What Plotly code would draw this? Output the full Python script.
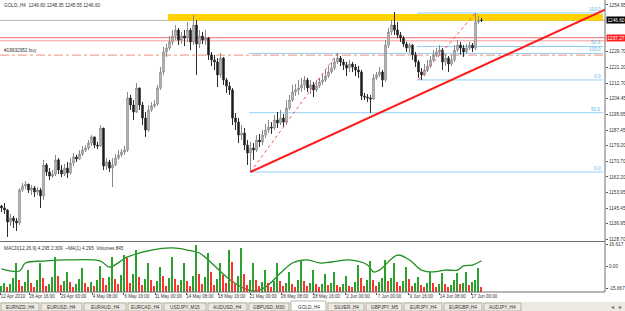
import plotly.graph_objects as go

# ---------------- data ----------------
first_open = 1146.6
closes = [1145.5, 1144.4, 1137.9, 1140.1, 1138.5, 1137.4, 1155.2, 1157.3, 1158.4, 1155.2,
          1156.3, 1154.1, 1155.2, 1152.0, 1168.7, 1164.9, 1162.7, 1163.8, 1171.4, 1166.0,
          1163.8, 1167.0, 1164.4, 1169.7, 1173.0, 1171.9, 1174.6, 1176.7, 1177.8, 1180.5,
          1183.8, 1179.4, 1178.9, 1188.6, 1168.1, 1170.3, 1167.0, 1168.7, 1172.4, 1174.1,
          1175.7, 1176.7, 1204.8, 1201.0, 1197.2, 1210.2, 1201.0, 1194.0, 1187.5, 1198.3,
          1200.5, 1201.5, 1210.2, 1218.8, 1229.6, 1231.7, 1235.0, 1238.2, 1241.4, 1236.0,
          1238.2, 1237.1, 1241.4, 1235.0, 1244.1, 1233.9, 1238.2, 1236.0, 1237.1, 1228.0,
          1225.3, 1224.2, 1217.2, 1226.3, 1214.5, 1211.2, 1209.1, 1194.0, 1191.8, 1184.8,
          1185.9, 1179.4, 1175.1, 1177.8, 1176.7, 1182.1, 1181.1, 1184.8, 1187.5, 1189.1,
          1188.6, 1192.9, 1191.3, 1194.0, 1191.8, 1199.4, 1203.7, 1208.0, 1209.1, 1210.2,
          1211.8, 1214.5, 1210.2, 1211.8, 1209.1, 1211.2, 1213.4, 1214.5, 1216.6, 1218.8,
          1220.9, 1224.2, 1226.3, 1224.2, 1222.6, 1220.9, 1223.1, 1221.5, 1219.9, 1218.8,
          1205.9, 1205.3, 1204.8, 1204.2, 1215.6, 1217.2, 1218.8, 1214.5, 1233.3, 1240.4,
          1244.1, 1241.4, 1238.7, 1237.1, 1233.9, 1231.7, 1233.3, 1228.0, 1224.2, 1218.8,
          1217.2, 1219.9, 1222.0, 1225.3, 1228.0, 1229.6, 1230.6, 1224.2, 1226.3, 1223.1,
          1225.3, 1230.6, 1233.3, 1231.7, 1229.6, 1231.7, 1233.3, 1231.7, 1245.7, 1246.8,
          1246.6]
highs = [1147.1, 1148.2, 1144.9, 1142.3, 1141.2, 1140.1, 1156.3, 1159.0, 1160.0, 1158.4,
         1157.9, 1157.3, 1156.8, 1156.3, 1171.4, 1169.7, 1167.0, 1166.0, 1174.1, 1172.4,
         1168.7, 1169.2, 1170.3, 1172.4, 1175.1, 1174.1, 1176.7, 1178.9, 1179.4, 1182.1,
         1184.8, 1183.8, 1181.1, 1190.2, 1188.6, 1172.4, 1171.4, 1172.4, 1174.6, 1176.7,
         1177.3, 1178.9, 1208.0, 1206.4, 1203.7, 1212.9, 1210.2, 1202.6, 1197.2, 1201.0,
         1202.6, 1203.7, 1211.8, 1221.5, 1232.3, 1233.9, 1238.2, 1241.4, 1244.1, 1242.5,
         1240.4, 1241.4, 1245.7, 1242.5, 1249.5, 1246.8, 1241.4, 1240.4, 1241.4, 1237.7,
         1229.6, 1228.0, 1226.3, 1229.0, 1226.9, 1215.6, 1213.4, 1210.2, 1196.7, 1194.0,
         1190.2, 1188.6, 1182.1, 1181.1, 1180.5, 1184.8, 1185.4, 1187.5, 1190.8, 1192.9,
         1191.8, 1195.6, 1197.2, 1198.3, 1196.2, 1203.7, 1206.4, 1211.8, 1212.3, 1214.5,
         1215.6, 1216.6, 1215.6, 1214.5, 1213.4, 1214.5, 1215.6, 1217.7, 1219.9, 1222.0,
         1224.2, 1226.3, 1228.8, 1227.4, 1225.8, 1224.2, 1225.3, 1224.2, 1223.1, 1222.0,
         1219.9, 1207.5, 1206.9, 1206.4, 1217.7, 1218.8, 1221.5, 1219.9, 1236.0, 1242.5,
         1246.8, 1251.1, 1245.7, 1240.4, 1238.2, 1235.0, 1234.4, 1233.9, 1229.6, 1225.3,
         1220.9, 1223.1, 1225.3, 1227.4, 1230.6, 1231.7, 1233.3, 1231.7, 1228.5, 1227.4,
         1228.0, 1233.3, 1236.0, 1235.0, 1233.3, 1233.9, 1235.0, 1234.4, 1250.6, 1249.0,
         1247.9]
lows = [1143.3, 1142.3, 1129.9, 1135.8, 1134.7, 1133.1, 1136.3, 1154.1, 1155.7, 1153.6,
        1152.5, 1151.4, 1152.5, 1145.5, 1149.8, 1162.7, 1160.6, 1161.7, 1162.7, 1163.8,
        1162.2, 1162.7, 1161.7, 1163.3, 1168.1, 1170.3, 1171.4, 1173.5, 1175.7, 1176.7,
        1178.9, 1177.8, 1177.3, 1178.4, 1166.0, 1166.0, 1164.9, 1156.8, 1168.1, 1171.4,
        1173.0, 1174.1, 1175.7, 1198.3, 1192.9, 1196.7, 1198.3, 1190.2, 1183.8, 1186.5,
        1197.2, 1199.4, 1200.5, 1209.1, 1217.2, 1226.9, 1230.6, 1233.3, 1236.0, 1233.3,
        1233.9, 1232.8, 1235.0, 1230.6, 1233.3, 1217.2, 1231.7, 1233.9, 1233.3, 1225.3,
        1222.0, 1219.9, 1210.7, 1215.6, 1211.8, 1207.5, 1206.4, 1190.2, 1187.5, 1180.5,
        1182.1, 1176.7, 1168.7, 1164.9, 1171.4, 1175.7, 1178.4, 1179.4, 1183.2, 1185.9,
        1185.4, 1187.5, 1188.6, 1190.2, 1189.1, 1190.2, 1198.3, 1202.6, 1205.9, 1206.4,
        1208.0, 1209.1, 1208.0, 1206.9, 1205.3, 1208.0, 1210.2, 1211.8, 1213.4, 1215.6,
        1217.7, 1219.9, 1223.1, 1222.0, 1219.9, 1216.6, 1218.8, 1218.8, 1216.6, 1215.6,
        1203.7, 1203.7, 1202.6, 1196.7, 1203.7, 1214.5, 1216.1, 1210.7, 1213.4, 1231.7,
        1238.7, 1238.7, 1237.1, 1235.0, 1232.3, 1229.6, 1229.0, 1225.3, 1221.5, 1215.6,
        1214.5, 1216.6, 1218.8, 1220.9, 1224.2, 1226.9, 1228.0, 1219.9, 1222.0, 1218.8,
        1222.0, 1224.2, 1229.6, 1228.0, 1226.9, 1228.5, 1230.6, 1229.6, 1230.6, 1244.7,
        1245.7]
volumes = [1020, 1530, 850, 1360, 2380, 4930, 2040, 1020, 1700, 3740,
           1530, 850, 2040, 4930, 2380, 1020, 1360, 2550, 5950, 2720,
           1190, 1870, 3400, 1700, 850, 1360, 2210, 4080, 1530, 850,
           1700, 1020, 2040, 4420, 2380, 1190, 2550, 5950, 2210, 1360,
           2890, 6290, 5780, 1530, 3060, 7140, 2550, 1190, 2210, 4930,
           2040, 1020, 1870, 4250, 2720, 1020, 2380, 5950, 2210, 1190,
           2040, 4930, 1870, 1020, 2720, 7990, 3060, 1360, 2550, 6630,
           3400, 1190, 2210, 4930, 2890, 1530, 7140, 5100, 1360, 2720,
           7480, 3060, 1190, 2040, 4930, 2040, 1020, 1700, 3740, 1530,
           850, 1870, 4930, 1870, 1020, 1530, 3400, 1360, 850, 2040,
           5440, 1870, 1020, 1530, 3740, 1360, 850, 1360, 3060, 1190,
           1530, 3400, 1190, 850, 1360, 2720, 1020, 850, 1700, 4590,
           2380, 1020, 2040, 5270, 2040, 1020, 1700, 2380, 5440, 1870,
           2380, 4930, 1700, 1020, 1870, 4250, 2210, 1020, 1530, 2550,
           1190, 850, 1530, 3400, 1530, 850, 1360, 3230, 1360, 850,
           1190, 2040, 3230, 1360, 1530, 3400, 1190, 1700, 2040, 4080,
           845]
macd_idx = [0, 6, 8, 14, 22, 33, 36, 42, 50, 57, 62, 66, 70, 75, 80, 84, 88, 93, 97, 102,
            106, 110, 116, 122, 124, 126, 132, 136, 140, 144, 148, 152, 154, 157, 160]
macd_val = [-1.7, -3.2, 2.7, 4.1, 4.9, 4.1, -0.3, 7.1, 12.2, 13.7, 12.2, 10.0, 2.7, -7.6, -15.0,
            -17.8, -15.0, -4.7, 2.7, 4.9, 2.7, 3.4, 4.9, 1.2, -3.9, -2.5, 8.5, 4.9, -2.5, -3.9,
            -2.5, -2.5, 0.5, 1.2, 4.295]

price_ticks = [1254.95, 1229.70, 1221.20, 1212.70, 1204.45, 1195.95, 1187.45, 1179.20,
               1170.70, 1162.20, 1153.95, 1145.45, 1136.95, 1128.70]
bid_price = 1246.60
order_price = 1227.9
red_levels = [1237.27, 1235.6]
zone_prices = [1246.4, 1250.1]
zone_start = 55.5
fibA = (83, 1164.9, 112, 1228.8)
fibB = (139, 1214.5, 158, 1250.6)
trend = (83, 1164.9, 160, 1221.9)
fib_levels = [0.0, 50.0, 100.0]

macd_ticks = [16.617, 0.0, -15.667]
macd_tick_text = ["16.617", "0.00", "-15.667"]

time_labels = ["12 Apr 2010", "26 Apr 16:00", "29 Apr 00:00", "4 May 08:00", "6 May 16:00",
               "11 May 00:00", "14 May 08:00", "18 May 16:00", "21 May 00:00", "26 May 08:00",
               "28 May 16:00", "2 Jun 00:00", "7 Jun 00:00", "9 Jun 16:00", "14 Jun 08:00",
               "17 Jun 00:00"]
time_pos = [-0.5, 9.2, 19.7, 30.2, 40.8, 51.3, 61.8, 72.4, 82.9, 93.4, 104.0, 114.5,
            125.0, 135.6, 146.1, 156.6]

tabs = ["EURNZD.,H4", "EURUSD.,H4", "EURAUD.,H4", "EURCAD.,H4", "USDJPY.,M15", "AUDUSD.,H4",
        "GBPUSD.,M30", "GOLD.,H4", "SILVER.,H4", "GBPJPY.,M5", "EURJPY.,H4", "EURGBP.,H4",
        "AUDJPY.,H4"]
active_tab = "GOLD.,H4"

# ---------------- layout geometry ----------------
W, H = 625, 311
ML, MR, MT, MB = 0, 20, 0, 19
PW, PH = W - ML - MR, H - MT - MB
SPACING = 3.0
XMAX = PW / SPACING - 0.5
FONT = "Liberation Sans, Arial, sans-serif"
TXT = "#333333"
FS = 4.7


def py(p):
    return (PH - p) / PH


def px(p):
    return p / PW


n = len(closes)
xs = list(range(n))
opens = [first_open] + closes[:-1]
highs = [max(h, o, c) for h, o, c in zip(highs, opens, closes)]
lows = [min(l, o, c) for l, o, c in zip(lows, opens, closes)]
vol_colors = ["#2ca02c"] + ["#2ca02c" if volumes[i] > volumes[i - 1] else "#ff3030"
                           for i in range(1, len(volumes))]

fig = go.Figure()
fig.add_trace(go.Candlestick(
    x=xs, open=opens, high=highs, low=lows, close=closes,
    increasing=dict(line=dict(color="#8a8a8a", width=1), fillcolor="#d4d4d4"),
    decreasing=dict(line=dict(color="#2a2a2a", width=1), fillcolor="#111111"),
    whiskerwidth=0, xaxis="x", yaxis="y", showlegend=False, hoverinfo="skip"))
fig.add_trace(go.Bar(x=list(range(len(volumes))), y=volumes, marker_color=vol_colors,
                     marker_line_width=0, width=0.55, xaxis="x2", yaxis="y3",
                     showlegend=False, hoverinfo="skip"))
fig.add_trace(go.Scatter(x=macd_idx, y=macd_val, mode="lines",
                         line=dict(color="#1f8f1f", width=1.3, shape="spline"),
                         xaxis="x2", yaxis="y2", showlegend=False, hoverinfo="skip"))

shapes = []
shapes.append(dict(type="rect", xref="x", yref="y", x0=zone_start, x1=200.5,
                   y0=zone_prices[0], y1=zone_prices[1], fillcolor="#FFD200",
                   line=dict(width=0), layer="below"))
shapes.append(dict(type="line", xref="paper", yref="y", x0=0, x1=1, y0=bid_price, y1=bid_price,
                   line=dict(color="#b8b2aa", width=1), layer="below"))
for lv, col in zip(red_levels, ["#f26a6a", "#f59a9a"]):
    shapes.append(dict(type="line", xref="paper", yref="y", x0=0, x1=1, y0=lv, y1=lv,
                       line=dict(color=col, width=1), layer="below"))
shapes.append(dict(type="line", xref="paper", yref="y", x0=0, x1=1, y0=order_price, y1=order_price,
                   line=dict(color="#f0907a", width=1, dash="dashdot"), layer="below"))
fib_annots = []
for (x0, p0, x1, p1) in [fibA, fibB]:
    for lv in fib_levels:
        pr = p0 + (p1 - p0) * lv / 100.0
        shapes.append(dict(type="line", xref="x", yref="y", x0=x0 - 0.5, x1=200.5, y0=pr, y1=pr,
                           line=dict(color="#8fd0f5", width=1), layer="below"))
        fib_annots.append(dict(x=200.4, y=pr, xref="x", yref="y", text="%.1f" % lv,
                               showarrow=False, xanchor="right", yanchor="bottom", yshift=-1,
                               font=dict(size=FS, color="#5ab4e6", family=FONT)))
    shapes.append(dict(type="line", xref="x", yref="y", x0=x0, x1=x1, y0=p0, y1=p1,
                       line=dict(color="#ff5050", width=1, dash="dot"), layer="above"))
tx0, tp0, tx1, tp1 = trend
slope = (tp1 - tp0) / (tx1 - tx0)
shapes.append(dict(type="line", xref="x", yref="y", x0=tx0, x1=XMAX, y0=tp0,
                   y1=tp0 + slope * (XMAX - tx0), line=dict(color="#ff1a1a", width=2),
                   layer="above"))
shapes.append(dict(type="line", xref="paper", yref="paper", x0=1, x1=1, y0=0, y1=1,
                   line=dict(color="#6e6e6e", width=1)))
shapes.append(dict(type="line", xref="paper", yref="paper", x0=0, x1=1, y0=py(241.5), y1=py(241.5),
                   line=dict(color="#6e6e6e", width=1)))
shapes.append(dict(type="line", xref="paper", yref="paper", x0=0, x1=1, y0=0, y1=0,
                   line=dict(color="#6e6e6e", width=1)))
shapes.append(dict(type="rect", xref="paper", yref="paper", x0=0, x1=px(W), y0=py(311), y1=py(302),
                   fillcolor="#ece9e2", line=dict(width=0)))
tab_edges = [0, 40, 83, 127, 163, 207, 248, 290, 327, 365, 403, 443, 483, 522]
annots = []
for i, name in enumerate(tabs):
    a, b = tab_edges[i], tab_edges[i + 1]
    active = name == active_tab
    shapes.append(dict(type="rect", xref="paper", yref="paper", x0=px(a + 1), x1=px(b - 1),
                       y0=py(311), y1=py(301 if active else 303),
                       fillcolor="#ffffff" if active else "#ece9e2",
                       line=dict(color="#a9a49a", width=0.8)))
    annots.append(dict(x=px((a + b) / 2), y=py(307), xref="paper", yref="paper", text=name,
                       xanchor="center", yanchor="middle",
                       showarrow=False, font=dict(size=FS, color=TXT, family=FONT)))
annots.append(dict(x=px(612), y=py(307), xref="paper", yref="paper", text="◂", showarrow=False,
                   xanchor="center", yanchor="middle", font=dict(size=6, color="#666666")))
annots.append(dict(x=px(620), y=py(307), xref="paper", yref="paper", text="▸", showarrow=False,
                   xanchor="center", yanchor="middle", font=dict(size=6, color="#666666")))

annots.append(dict(x=px(2), y=py(1), xref="paper", yref="paper", xanchor="left", yanchor="top",
                   text="GOLD.,H4  1246.60 1248.35 1245.55 1246.60", showarrow=False,
                   font=dict(size=FS, color=TXT, family=FONT)))
annots.append(dict(x=px(2), y=order_price, xref="paper", yref="y", xanchor="left", yanchor="bottom",
                   yshift=0, text="#19932952 buy", showarrow=False,
                   font=dict(size=FS, color=TXT, family=FONT)))
annots.append(dict(x=px(2), y=py(244), xref="paper", yref="paper", xanchor="left", yanchor="top",
                   text="MACD(12,26,9) 4.295 2.309  ~MA(1) 4.295  Volumes 845", showarrow=False,
                   font=dict(size=FS, color=TXT, family=FONT)))
annots.append(dict(x=1.0, y=bid_price, xref="paper", yref="y", xanchor="left", yanchor="middle",
                   xshift=1, text="1246.60", showarrow=False, bgcolor="#000000", borderpad=0.5,
                   font=dict(size=FS, color="#ffffff", family=FONT)))
annots.append(dict(x=1.0, y=red_levels[0], xref="paper", yref="y", xanchor="left", yanchor="middle",
                   xshift=1, text="%.2f" % red_levels[0], showarrow=False, bgcolor="#ff2020",
                   borderpad=0.5, font=dict(size=FS, color="#ffffff", family=FONT)))

fig.update_layout(
    width=W, height=H, margin=dict(l=ML, r=MR, t=MT, b=MB, autoexpand=False),
    paper_bgcolor="#ffffff", plot_bgcolor="#ffffff",
    shapes=shapes, annotations=fib_annots + annots, bargap=0,
    xaxis=dict(domain=[0, 1], range=[-0.5, XMAX], anchor="y", showticklabels=False,
               showgrid=False, zeroline=False, rangeslider=dict(visible=False),
               automargin=False),
    xaxis2=dict(domain=[0, 1], range=[-0.5, XMAX], anchor="y2", matches="x",
                tickmode="array", tickvals=time_pos, ticktext=time_labels, tickangle=0,
                ticks="outside", ticklen=2, tickcolor="#555555", ticklabelshift=13,
                ticklabelstandoff=-2, automargin=False,
                tickfont=dict(size=4.5, color=TXT, family=FONT),
                showgrid=False, zeroline=False),
    yaxis=dict(domain=[py(241), 1], range=[1127.7, 1257.6], side="right", anchor="x",
               tickmode="array", tickvals=price_ticks, automargin=False,
               ticktext=["%.2f" % v for v in price_ticks], ticks="outside", ticklen=2,
               ticklabelstandoff=0,
               tickcolor="#555555", tickfont=dict(size=FS, color=TXT, family=FONT),
               showgrid=False, zeroline=False),
    yaxis2=dict(domain=[0, py(243)], range=[-18.6, 17.35], side="right", anchor="x2",
                tickmode="array", tickvals=macd_ticks, ticktext=macd_tick_text,
                ticks="outside", ticklen=2, tickcolor="#555555", automargin=False,
                ticklabelstandoff=0,
                tickfont=dict(size=FS, color=TXT, family=FONT),
                showgrid=False, zeroline=False),
    yaxis3=dict(domain=[0, py(243)], range=[0, 8330], overlaying="y2", anchor="x2",
                visible=False),
)
fig.write_html("out.html")
